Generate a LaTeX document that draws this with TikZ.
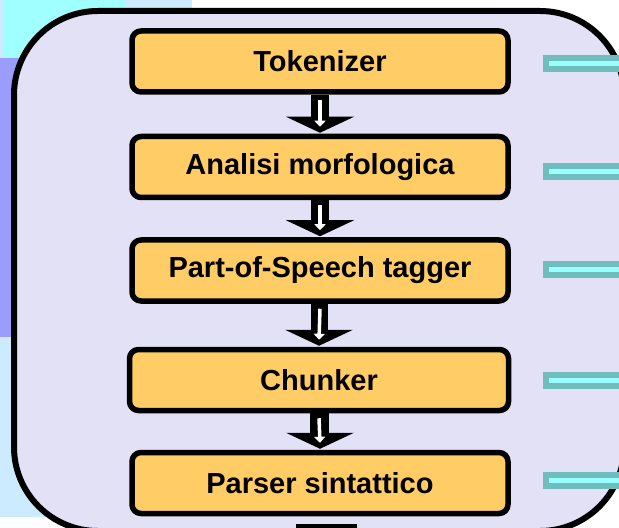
\documentclass[tikz,border=0pt]{standalone}
\usepackage{fontspec}
\setmainfont{Liberation Sans}
\usetikzlibrary{calc,arrows.meta}
\definecolor{bgblue}{HTML}{CCEBFF}
\definecolor{bgcyan}{HTML}{A0FFFF}
\definecolor{bgviolet}{HTML}{9C9CFF}
\definecolor{panel}{HTML}{E3E1F5}
\definecolor{stagefill}{HTML}{FFCC66}
\definecolor{barteal}{HTML}{70BDBD}
\definecolor{barline}{HTML}{99FFFF}
\tikzset{
  stage/.style={draw,line width=5.5bp,fill=stagefill,rounded corners=9bp,
    minimum width=376bp,minimum height=61bp,inner sep=0pt,
    font=\bfseries\fontsize{29bp}{34bp}\selectfont},
}
% block arrow between two stages
\newcommand\stagearrow[2]{%
  \fill ($(#1.south)+(-9,0)$) rectangle ($(#2.north)+(9,-16)$);
  \fill ($(#2.north)+(-34,-17)$) -- ($(#2.north)+(34,-17)$) -- ($(#2.north)+(0,-1)$) -- cycle;
  \draw[white,line width=3.5bp,-{Triangle[width=11bp,length=6bp]}] ($(#1.south)+(0,5)$) -- ($(#2.north)+(0,-7)$);
}
\begin{document}
\begin{tikzpicture}[x=1bp,y=-1bp,line join=round]
  \clip (0,0) rectangle (619,528);
  % background patches
  \fill[bgblue] (0,0) rectangle (192,517);
  \fill[bgviolet] (0,58) rectangle (30,337);
  \fill[bgcyan] (3,0) rectangle (126,58);
  % panel
  \draw[line width=6bp,fill=panel,rounded corners=84bp] (14,11) rectangle (624,531);
  % stages
  \node[stage] (tok) at (320,61.5) {Tokenizer};
  \node[stage] (morf) at (320,167) {Analisi morfologica};
  \node[stage] (pos) at (320,270.5) {Part-of-Speech tagger};
  \node[stage,minimum width=379bp] (chunk) at (319,380) {Chunker};
  \node[stage] (pars) at (320,483) {Parser sintattico};
  \stagearrow{tok}{morf}
  \stagearrow{morf}{pos}
  \stagearrow{pos}{chunk}
  \stagearrow{chunk}{pars}
  \fill (296,524) rectangle (357,540);
  % side bars
  \foreach \n/\dy in {tok/2,morf/5,pos/-1,chunk/0,pars/-3} {
    \fill[barteal] ($(\n.east)+(32,\dy-8.5)$) rectangle ($(\n.east)+(120,\dy+8.5)$);
    \fill[barline] ($(\n.east)+(38,\dy-2.5)$) rectangle ($(\n.east)+(120,\dy+2.5)$);
  }
\end{tikzpicture}
\end{document}
